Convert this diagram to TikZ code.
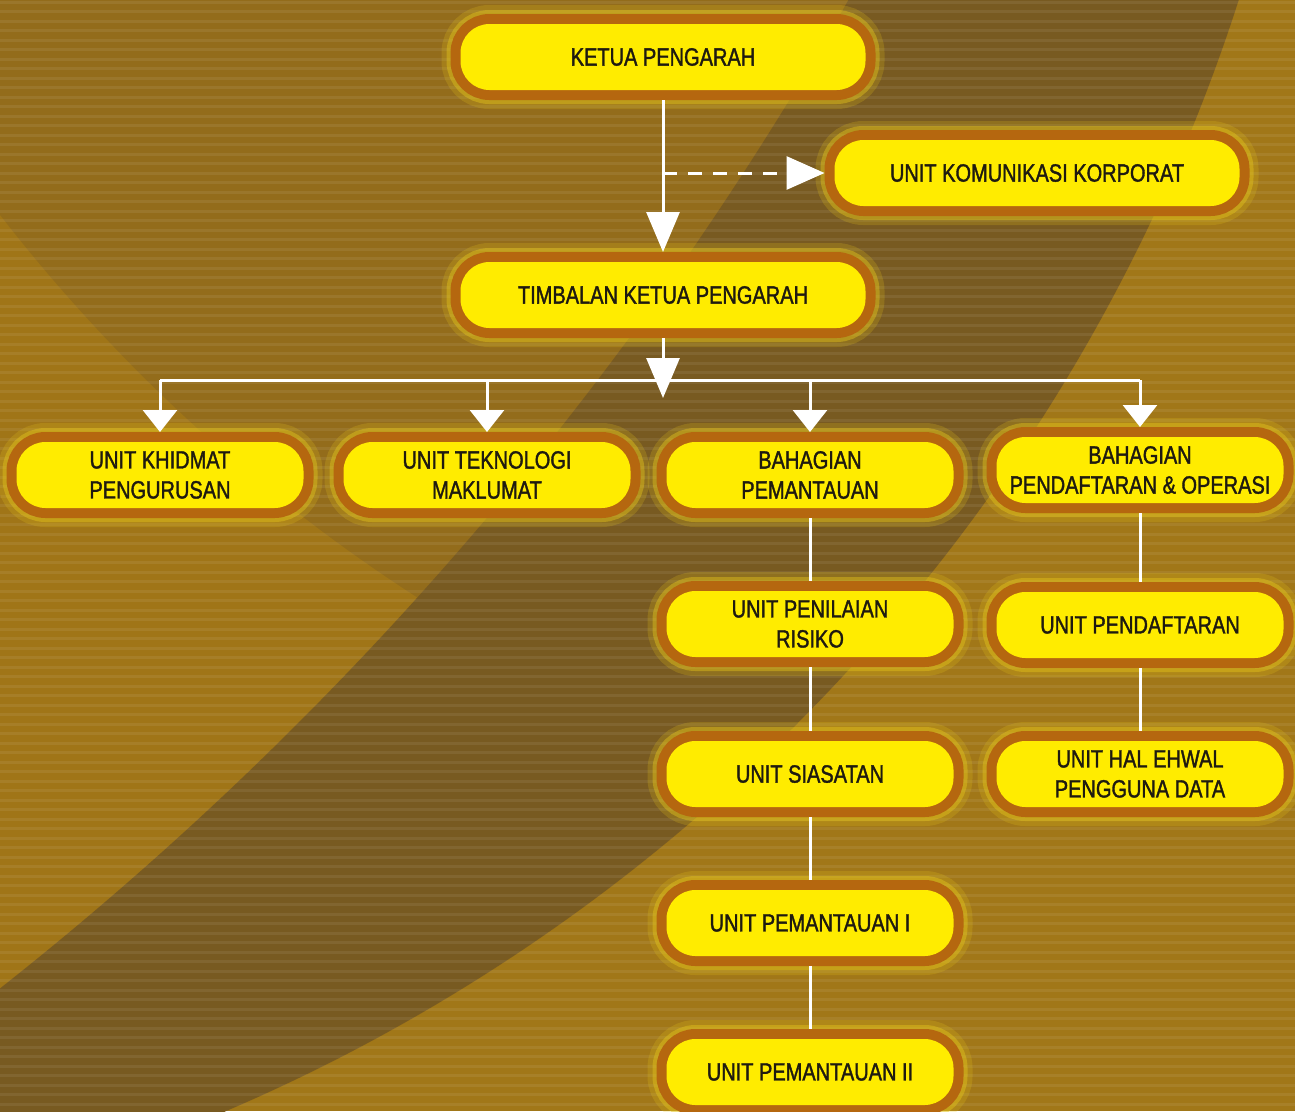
\documentclass[tikz,border=0pt]{standalone}
\usepackage{fontspec}
\setmainfont{Liberation Sans}[FakeStretch=0.80, FakeBold=1.4]
\usetikzlibrary{arrows.meta,calc}
\definecolor{bgL}{HTML}{A17718}
\definecolor{bgM}{HTML}{936C1B}
\definecolor{bgLeft}{HTML}{A07517}
\definecolor{bgD}{HTML}{785A21}
\definecolor{nodeY}{HTML}{FFEC00}
\definecolor{nodeB}{HTML}{B5670F}
\definecolor{glowc}{HTML}{E2C21C}
\definecolor{txt}{HTML}{1E1A10}
\tikzset{
  box/.style={rounded corners=29pt, fill=nodeY, minimum height=66pt, inner sep=0pt,
    outer sep=10pt, align=center, text=txt, font=\fontsize{25}{30}\selectfont,
    preaction={draw=glowc, draw opacity=0.22, line width=38pt},
    preaction={draw=glowc, draw opacity=0.45, line width=28pt},
    preaction={draw=nodeB, line width=20pt}},
  widebox/.style={box, minimum width=405pt},
  narrowbox/.style={box, minimum width=287pt},
  conn/.style={draw=white, line width=3pt},
  bigarrow/.style={conn, -{Triangle[width=33pt,length=40pt]}},
  smallarrow/.style={conn, -{Triangle[width=34pt,length=22pt]}},
  dasharrow/.style={conn, dash pattern=on 14pt off 11pt, -{Triangle[width=33pt,length=38pt]}}
}
\begin{document}
\begin{tikzpicture}[x=1pt,y=-1pt]
\useasboundingbox (0,0) rectangle (1295,1111);
% background
\begin{scope}
  \clip (0,0) rectangle (1295,1111);
  \fill[bgL] (0,0) rectangle (1295,1111);
  \begin{scope}
    \clip (-485,-554) circle (1810pt);
    \fill[bgM] (0,0) rectangle (1295,1111);
    \fill[bgLeft, even odd rule] (-10,-10) rectangle (1305,1120) (1324,-811) circle (1675pt);
    \fill[bgD, even odd rule] (-10,-10) rectangle (1305,1120) (-2092,-1664) circle (3378pt);
  \end{scope}
  \foreach \yy in {2,11.5,...,1111} \draw[white, opacity=0.07, line width=3pt] (0,\yy) -- (1295,\yy);
\end{scope}
% nodes
\node[widebox] (kp) at (663,57) {KETUA PENGARAH};
\node[widebox] (ukk) at (1037,173) {UNIT KOMUNIKASI KORPORAT};
\node[widebox] (tkp) at (663,295) {TIMBALAN KETUA PENGARAH};
\node[narrowbox] (ukp) at (160,475) {UNIT KHIDMAT\\PENGURUSAN};
\node[narrowbox] (utm) at (487,475) {UNIT TEKNOLOGI\\MAKLUMAT};
\node[narrowbox] (bp) at (810,475) {BAHAGIAN\\PEMANTAUAN};
\node[narrowbox] (bpo) at (1140,470) {BAHAGIAN\\PENDAFTARAN \& OPERASI};
\node[narrowbox] (upr) at (810,624) {UNIT PENILAIAN\\RISIKO};
\node[narrowbox] (us) at (810,774) {UNIT SIASATAN};
\node[narrowbox] (up1) at (810,923) {UNIT PEMANTAUAN I};
\node[narrowbox] (up2) at (810,1072) {UNIT PEMANTAUAN II};
\node[narrowbox] (upd) at (1140,625) {UNIT PENDAFTARAN};
\node[narrowbox] (uhe) at (1140,774) {UNIT HAL EHWAL\\PENGGUNA DATA};
% coordinates
\coordinate (dj) at (kp.south |- ukk.west);
\coordinate (bustip) at (663,398);
\coordinate (busL) at (160,380);
\coordinate (busR) at (1140,380);
% connectors
\draw[bigarrow] (kp.south) -- (tkp.north);
\draw[dasharrow] (dj) -- (ukk.west);
\draw[conn] (busL) -- (busR);
\draw[bigarrow] (tkp.south) -- (bustip);
\draw[smallarrow] (ukp.north |- busL) -- (ukp.north);
\draw[smallarrow] (utm.north |- busL) -- (utm.north);
\draw[smallarrow] (bp.north |- busL) -- (bp.north);
\draw[smallarrow] (bpo.north |- busL) -- (bpo.north);
\draw[conn] (bp.south) -- (upr.north);
\draw[conn] (upr.south) -- (us.north);
\draw[conn] (us.south) -- (up1.north);
\draw[conn] (up1.south) -- (up2.north);
\draw[conn] (bpo.south) -- (upd.north);
\draw[conn] (upd.south) -- (uhe.north);
\end{tikzpicture}
\end{document}
